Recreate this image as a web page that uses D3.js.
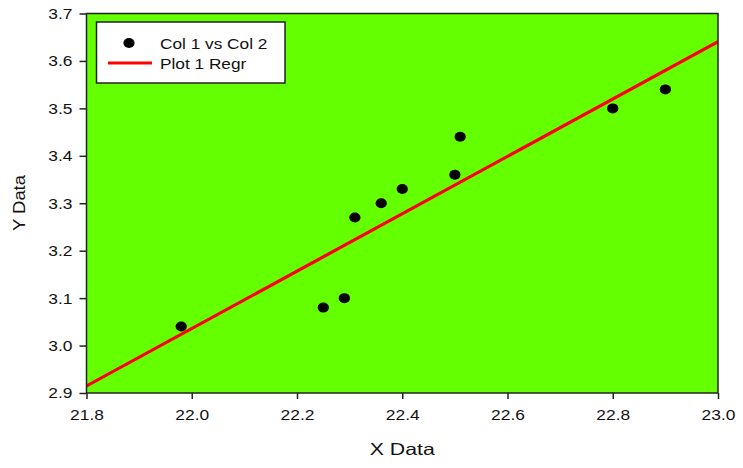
<!DOCTYPE html>
<html><head><meta charset="utf-8">
<script src="https://cdn.jsdelivr.net/npm/d3@7"></script>
<style>body{margin:0;background:#fff}svg{display:block}</style>
</head><body>
<svg id="c" width="743" height="468"></svg>
<script>
const xData = [21.98, 22.25, 22.29, 22.31, 22.36, 22.40, 22.50, 22.51, 22.80, 22.90];
const yData = [3.04, 3.08, 3.10, 3.27, 3.30, 3.33, 3.36, 3.44, 3.50, 3.54];
const xTicks = [21.8, 22.0, 22.2, 22.4, 22.6, 22.8, 23.0];
const yTicks = [2.9, 3.0, 3.1, 3.2, 3.3, 3.4, 3.5, 3.6, 3.7];
const legendLabels = ["Col 1 vs Col 2", "Plot 1 Regr"];

const svg = d3.select("#c");
const L = 86.5, R = 718, T = 13.5, B = 393;
const x = d3.scaleLinear().domain([21.8, 23.0]).range([L, R]);
const y = d3.scaleLinear().domain([2.9, 3.7]).range([B, T]);
const font = "Liberation Sans, Arial, sans-serif";

function stretch(sel, k) {
  sel.each(function () {
    const w = this.getComputedTextLength();
    d3.select(this).attr("textLength", w * k).attr("lengthAdjust", "spacingAndGlyphs");
  });
}

svg.append("rect").attr("x", L).attr("y", T).attr("width", R - L).attr("height", B - T)
  .attr("fill", "#64ff00");

// regression
const mx = d3.mean(xData), my = d3.mean(yData);
const slope = d3.sum(xData.map((v, i) => (v - mx) * (yData[i] - my))) / d3.sum(xData.map(v => (v - mx) ** 2));
const icpt = my - slope * mx;
svg.append("clipPath").attr("id", "pc").append("rect")
  .attr("x", L).attr("y", T).attr("width", R - L).attr("height", B - T);
svg.append("line").attr("clip-path", "url(#pc)")
  .attr("x1", x(21.8)).attr("y1", y(icpt + slope * 21.8))
  .attr("x2", x(23.0)).attr("y2", y(icpt + slope * 23.0))
  .attr("stroke", "#ff0000").attr("stroke-width", 3.2);

svg.selectAll("ellipse.pt").data(xData).enter().append("ellipse").attr("class", "pt")
  .attr("cx", d => x(d)).attr("cy", (d, i) => y(yData[i]))
  .attr("rx", 5.6).attr("ry", 5).attr("fill", "#000");

svg.append("rect").attr("x", L).attr("y", T).attr("width", R - L).attr("height", B - T)
  .attr("fill", "none").attr("stroke", "#222").attr("stroke-width", 1.5);

// axes
const xAxis = svg.append("g").attr("transform", `translate(0,${B})`)
  .call(d3.axisBottom(x).tickValues(xTicks).tickFormat(d3.format(".1f")).tickSizeOuter(0).tickSizeInner(6).tickPadding(10));
const yAxis = svg.append("g").attr("transform", `translate(${L},0)`)
  .call(d3.axisLeft(y).tickValues(yTicks).tickFormat(d3.format(".1f")).tickSizeOuter(0).tickSizeInner(7).tickPadding(7));
[xAxis, yAxis].forEach(g => {
  g.select(".domain").remove();
  g.selectAll("line").attr("stroke", "#222").attr("stroke-width", 1.5);
  g.selectAll("text").attr("font-family", font).attr("font-size", 15.5).attr("fill", "#111");
  stretch(g.selectAll("text"), 1.12);
});

svg.append("text").attr("x", (L + R) / 2).attr("y", 455).attr("text-anchor", "middle")
  .attr("font-family", font).attr("font-size", 16.5).attr("fill", "#111").text("X Data")
  .attr("textLength", 65).attr("lengthAdjust", "spacingAndGlyphs");
svg.append("text").attr("transform", "translate(25,203) rotate(-90)").attr("text-anchor", "middle")
  .attr("font-family", font).attr("font-size", 16.5).attr("fill", "#111").text("Y Data")
  .attr("textLength", 56).attr("lengthAdjust", "spacingAndGlyphs");

// legend
const lg = svg.append("g");
lg.append("rect").attr("x", 96.5).attr("y", 22).attr("width", 188.5).attr("height", 61)
  .attr("fill", "#fff").attr("stroke", "#222").attr("stroke-width", 1.5);
lg.append("ellipse").attr("cx", 129).attr("cy", 43).attr("rx", 5.6).attr("ry", 5).attr("fill", "#000");
lg.append("line").attr("x1", 108).attr("x2", 152).attr("y1", 63).attr("y2", 63)
  .attr("stroke", "#ff0000").attr("stroke-width", 3.2);
const lt = lg.selectAll("text.lt").data(legendLabels).enter().append("text").attr("class", "lt")
  .attr("x", 160).attr("y", (d, i) => 48.5 + i * 20)
  .attr("font-family", font).attr("font-size", 15).attr("fill", "#111").text(d => d);
stretch(lt, 1.15);
</script>
</body></html>
